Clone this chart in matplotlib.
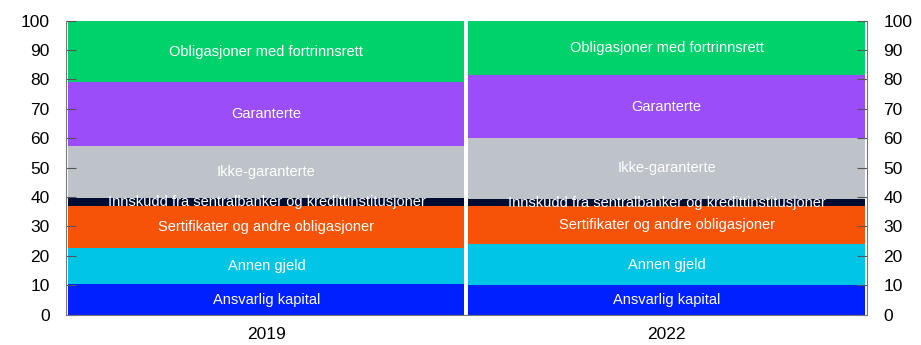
import matplotlib.pyplot as plt
import numpy as np

plt.rcParams["font.family"] = ["Liberation Sans", "DejaVu Sans"]

years = ["2019", "2022"]
categories = [
    "Ansvarlig kapital",
    "Annen gjeld",
    "Sertifikater og andre obligasjoner",
    "Innskudd fra sentralbanker og kredittinstitusjoner",
    "Ikke-garanterte",
    "Garanterte",
    "Obligasjoner med fortrinnsrett",
]
# share of funding, percent (2019, 2022)
values = {
    "Ansvarlig kapital": [10.3, 10.0],
    "Annen gjeld": [12.4, 13.9],
    "Sertifikater og andre obligasjoner": [14.2, 13.1],
    "Innskudd fra sentralbanker og kredittinstitusjoner": [2.9, 2.3],
    "Ikke-garanterte": [17.6, 20.9],
    "Garanterte": [21.6, 21.2],
    "Obligasjoner med fortrinnsrett": [21.0, 18.6],
}
colors = ["#0020FF", "#00C5E5", "#F75308", "#000D33", "#BEC3C9", "#9B4DF9", "#00D26B"]

fig, ax = plt.subplots(figsize=(9.21, 3.45), dpi=100)
fig.subplots_adjust(left=0.072, right=0.941, top=0.94, bottom=0.088)

x = np.arange(len(years))
bottom = np.zeros(len(years))
for cat, col in zip(categories, colors):
    vals = np.array(values[cat])
    ax.bar(x, vals, bottom=bottom, width=0.99, color=col, linewidth=0)
    for xi, b, v in zip(x, bottom, vals):
        ax.text(xi, b + v / 2, cat, ha="center", va="center",
                color="white", fontsize=10.5)
    bottom += vals

ax.set_xlim(-0.5, 1.5)
ax.set_ylim(0, 100)
ax.set_yticks(range(0, 101, 10))
ax.set_xticks(x)
ax.set_xticklabels(years)
ax.tick_params(axis="y", direction="in", length=7, labelsize=12.5,
               left=True, right=True, labelleft=True, labelright=True,
               color="#555555", pad=12)
ax.tick_params(axis="x", length=0, labelsize=12.5, pad=9)
for side in ["left", "right", "bottom"]:
    ax.spines[side].set_color("#777777")
ax.spines["top"].set_visible(False)

fig.savefig("out.png", dpi=100)
